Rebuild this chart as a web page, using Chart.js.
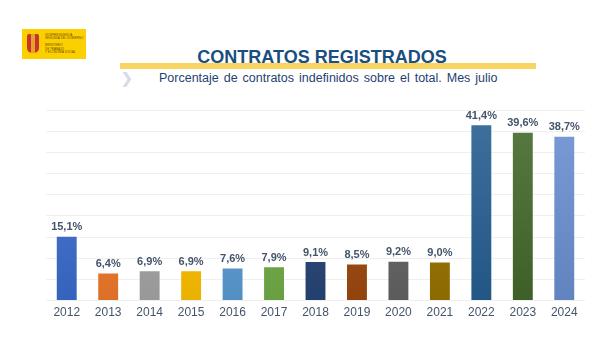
<!DOCTYPE html>
<html lang="es">
<head>
    <meta charset="UTF-8">
    <title>Contratos registrados</title>
    <style>
        body {
            margin: 0;
            width: 614px;
            height: 341px;
            background: #fff;
            font-family: "Liberation Sans", Arial, sans-serif;
            position: relative;
            overflow: hidden;
        }
        #logo {
            position: absolute;
            left: 22px;
            top: 29px;
            width: 64px;
            height: 30px;
            background: #fcd000;
        }
        #logo .shield {
            position: absolute;
            left: 5px;
            top: 5px;
            width: 12px;
            height: 19px;
            background: linear-gradient(90deg, #c8332a 0 30%, #e3a32a 30% 70%, #c8332a 70%);
            border-radius: 2px 2px 5px 5px;
        }
        #logo .txt {
            position: absolute;
            left: 23px;
            top: 5px;
            font-size: 3px;
            line-height: 3.4px;
            color: #6b4b00;
            white-space: nowrap;
        }
        #band {
            position: absolute;
            left: 120px;
            top: 63px;
            width: 416px;
            height: 6px;
            background: #f8d462;
        }
        #title {
            position: absolute;
            left: 120px;
            width: 404px;
            top: 47px;
            text-align: center;
            font-weight: bold;
            font-size: 18px;
            color: #1a4e80;
        }
        #chev {
            position: absolute;
            left: 121px;
            top: 70px;
            font-size: 14px;
            font-weight: bold;
            color: #d4dcea;
        }
        #subtitle {
            position: absolute;
            left: 159px;
            top: 71px;
            font-size: 12.5px;
            color: #1f3f73;
            word-spacing: 1.5px;
            white-space: nowrap;
        }
        #chartBox {
            position: absolute;
            left: 0;
            top: 0;
            width: 614px;
            height: 341px;
        }
    </style>
</head>
<body>

<div id="logo">
    <div class="shield"></div>
    <div class="txt">VICEPRESIDENCIA<br>SEGUNDA DEL GOBIERNO<br><br>MINISTERIO<br>DE TRABAJO<br>Y ECONOMÍA SOCIAL</div>
</div>
<div id="band"></div>
<div id="title">CONTRATOS REGISTRADOS</div>
<div id="chev">&#10095;</div>
<div id="subtitle">Porcentaje de contratos indefinidos sobre el total. Mes julio</div>

<div id="chartBox">
    <canvas id="chart" width="614" height="341"></canvas>
</div>

<script src="https://cdn.jsdelivr.net/npm/chart.js"></script>
<script>
    const years = ['2012', '2013', '2014', '2015', '2016', '2017', '2018', '2019', '2020', '2021', '2022', '2023', '2024'];
    const indefinidos = [15.1, 6.4, 6.9, 6.9, 7.6, 7.9, 9.1, 8.5, 9.2, 9.0, 41.4, 39.6, 38.7];
    const barColors = ['#3a6bcc', '#f07a2a', '#a5a5a5', '#ffc000', '#5b9bd5', '#70ad47',
        '#264478', '#9e480e', '#636363', '#997300', '#255e91', '#43682b', '#698ed0'];

    // mix a hex colour with white (amt > 0) or black (amt < 0)
    function shade(hex, amt) {
        const n = parseInt(hex.slice(1), 16);
        let r = n >> 16, g = (n >> 8) & 255, b = n & 255;
        const t = amt > 0 ? 255 : 0, p = Math.abs(amt);
        r = Math.round(r + (t - r) * p);
        g = Math.round(g + (t - g) * p);
        b = Math.round(b + (t - b) * p);
        return `rgb(${r},${g},${b})`;
    }

    function barFill(ctx) {
        const chart = ctx.chart;
        const area = chart.chartArea;
        if (!area) return barColors[ctx.dataIndex];
        const c = barColors[ctx.dataIndex];
        const grad = chart.ctx.createLinearGradient(0, area.top, 0, area.bottom);
        grad.addColorStop(0, shade(c, 0.12));
        grad.addColorStop(1, shade(c, -0.08));
        return grad;
    }

    // value labels above each bar, Spanish decimal comma
    const valueLabels = {
        id: 'valueLabels',
        afterDatasetsDraw(chart) {
            const ctx = chart.ctx;
            const meta = chart.getDatasetMeta(0);
            ctx.save();
            ctx.font = 'bold 11px "Liberation Sans", Arial, sans-serif';
            ctx.fillStyle = '#44546a';
            ctx.textAlign = 'center';
            ctx.textBaseline = 'bottom';
            meta.data.forEach((bar, i) => {
                const txt = indefinidos[i].toFixed(1).replace('.', ',') + '%';
                ctx.fillText(txt, bar.x, bar.y - 4);
            });
            ctx.restore();
        }
    };

    new Chart(document.getElementById('chart'), {
        type: 'bar',
        data: {
            labels: years,
            datasets: [{
                data: indefinidos,
                backgroundColor: barFill,
                borderWidth: 0,
                categoryPercentage: 1,
                barPercentage: 0.48
            }]
        },
        options: {
            responsive: false,
            animation: false,
            layout: { padding: { left: 46, right: 29, top: 110, bottom: 24 } },
            plugins: {
                legend: { display: false },
                tooltip: { enabled: false }
            },
            scales: {
                x: {
                    grid: { display: false },
                    border: { display: false },
                    ticks: {
                        color: '#44546a',
                        font: { family: '"Liberation Sans", Arial, sans-serif', size: 12 },
                        padding: -3
                    }
                },
                y: {
                    min: 0,
                    max: 45,
                    ticks: { display: false, stepSize: 5 },
                    grid: { color: '#efefef', drawTicks: false },
                    border: { display: false }
                }
            }
        },
        plugins: [valueLabels]
    });
</script>
</body>
</html>
